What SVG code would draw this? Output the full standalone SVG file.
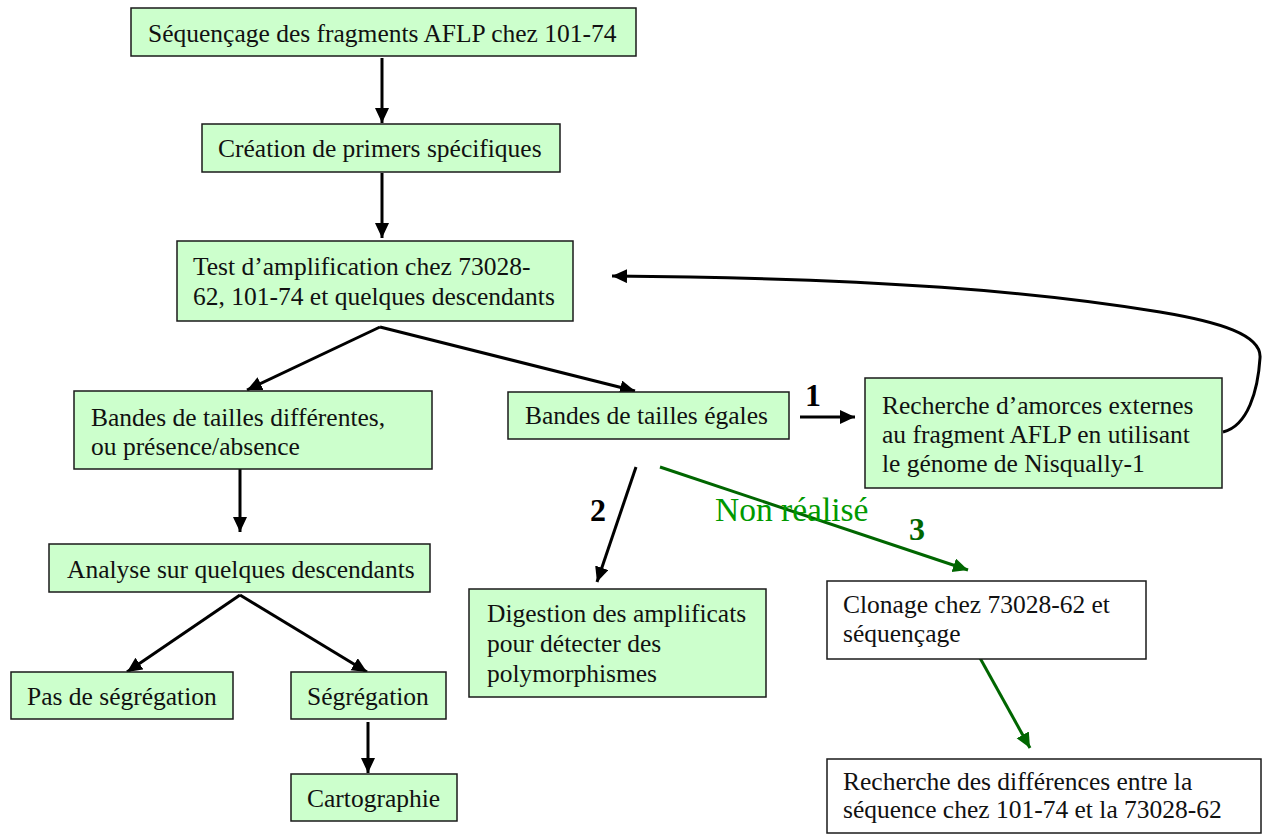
<svg xmlns="http://www.w3.org/2000/svg" width="1267" height="834" viewBox="0 0 1267 834">
<style>
.g{fill:#CCFFCC;stroke:#1a1a1a;stroke-width:1.5}
.w{fill:#FFFFFF;stroke:#1a1a1a;stroke-width:1.5}
.t{font-family:"Liberation Serif","Times New Roman",serif;font-size:25.5px;fill:#111}
.k{fill:none;stroke:#000;stroke-width:3}
.v{fill:none;stroke:#006600;stroke-width:3}
.n{font-family:"Liberation Serif","Times New Roman",serif;font-weight:bold;font-size:32px}
</style>
<defs>
<marker id="ak" markerUnits="userSpaceOnUse" markerWidth="17" markerHeight="15" refX="15" refY="7" orient="auto"><path d="M0,0 L15,7 L0,14 z" fill="#000"/></marker>
<marker id="ag" markerUnits="userSpaceOnUse" markerWidth="17" markerHeight="15" refX="15" refY="7" orient="auto"><path d="M0,0 L15,7 L0,14 z" fill="#006600"/></marker>
</defs>
<rect width="1267" height="834" fill="#fff"/>
<g id="connectors">
<path class="k" d="M382,58 L382,123" marker-end="url(#ak)"/>
<path class="k" d="M382,173 L382,238" marker-end="url(#ak)"/>
<path class="k" d="M380,327 L247,390" marker-end="url(#ak)"/>
<path class="k" d="M380,327 L635,391" marker-end="url(#ak)"/>
<path class="k" d="M240,469 L240,532" marker-end="url(#ak)"/>
<path class="k" d="M240,595 L127,672" marker-end="url(#ak)"/>
<path class="k" d="M240,595 L367,672" marker-end="url(#ak)"/>
<path class="k" d="M368,722 L368,773" marker-end="url(#ak)"/>
<path class="k" d="M800,417 L855,417" marker-end="url(#ak)"/>
<path class="k" d="M636,467 L597,582" marker-end="url(#ak)"/>
<path class="v" d="M660,467 L968,570" marker-end="url(#ag)"/>
<path class="v" d="M980,658 L1030,748" marker-end="url(#ag)"/>
<path class="k" d="M1223,432 C1248,426 1258,390 1260,358 C1262,335 1220,322 1160,312 C1040,292 880,278 612,276" marker-end="url(#ak)"/>
<text class="n" x="805" y="406" fill="#000">1</text>
<text class="n" x="590" y="521" fill="#000">2</text>
<text class="n" x="909" y="540" fill="#006600">3</text>
<text x="715" y="521" font-family="Liberation Serif, Times New Roman, serif" font-size="33.5" fill="#009900">Non réalisé</text>
</g>
<g id="n1"><rect class="g" x="131" y="8" width="505" height="48"/><text class="t" x="148" y="42">Séquençage des fragments AFLP chez 101-74</text></g>
<g id="n2"><rect class="g" x="202" y="124" width="358" height="48"/><text class="t" x="218" y="157">Création de primers spécifiques</text></g>
<g id="n3"><rect class="g" x="177" y="241" width="396" height="80"/><text class="t" x="193" y="275">Test d’amplification chez 73028-</text><text class="t" x="193" y="305">62, 101-74 et quelques descendants</text></g>
<g id="n4"><rect class="g" x="74" y="391" width="358" height="78"/><text class="t" x="91" y="426">Bandes de tailles différentes,</text><text class="t" x="91" y="455">ou présence/absence</text></g>
<g id="n5"><rect class="g" x="508" y="392" width="281" height="47"/><text class="t" x="525" y="424">Bandes de tailles égales</text></g>
<g id="n6"><rect class="g" x="865" y="378" width="357" height="110"/><text class="t" x="882" y="414">Recherche d’amorces externes</text><text class="t" x="882" y="443">au fragment AFLP en utilisant</text><text class="t" x="882" y="472">le génome de Nisqually-1</text></g>
<g id="n7"><rect class="g" x="49" y="544" width="381" height="48"/><text class="t" x="67" y="578">Analyse sur quelques descendants</text></g>
<g id="n8"><rect class="g" x="469" y="589" width="297" height="108"/><text class="t" x="487" y="622">Digestion des amplificats</text><text class="t" x="487" y="652">pour détecter des</text><text class="t" x="487" y="682">polymorphismes</text></g>
<g id="n9"><rect class="w" x="827" y="581" width="319" height="78"/><text class="t" x="843" y="613">Clonage chez 73028-62 et</text><text class="t" x="843" y="642">séquençage</text></g>
<g id="n10"><rect class="g" x="11" y="672" width="222" height="47"/><text class="t" x="27" y="705">Pas de ségrégation</text></g>
<g id="n11"><rect class="g" x="291" y="672" width="155" height="47"/><text class="t" x="307" y="705">Ségrégation</text></g>
<g id="n12"><rect class="g" x="291" y="774" width="166" height="47"/><text class="t" x="307" y="807">Cartographie</text></g>
<g id="n13"><rect class="w" x="827" y="759" width="434" height="74"/><text class="t" x="843" y="790">Recherche des différences entre la</text><text class="t" x="843" y="818">séquence chez 101-74 et la 73028-62</text></g>
</svg>
